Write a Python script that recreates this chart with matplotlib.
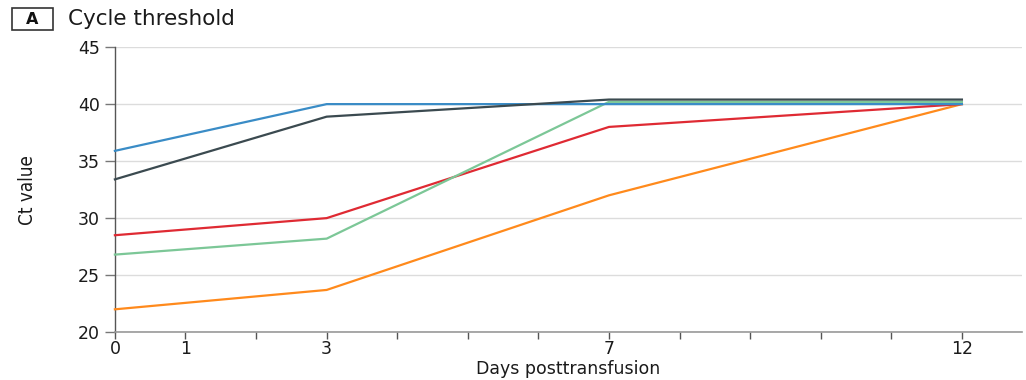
import matplotlib
matplotlib.use('Agg')
from matplotlib import pyplot as plt
from matplotlib.patches import Rectangle
from matplotlib.ticker import FixedLocator

days = [0, 3, 7, 12]
tick_days = list(range(0, 13))
tick_labels = ['0', '1', '', '3', '', '', '', '7', '', '', '', '', '12']
yticks = [20, 25, 30, 35, 40, 45]

# Ct value per participant
ct_blue = [35.9, 40.0, 40.0, 40.0]
ct_slate = [33.4, 38.9, 40.4, 40.4]
ct_green = [26.8, 28.2, 40.2, 40.2]
ct_red = [28.5, 30.0, 38.0, 40.0]
ct_orange = [22.0, 23.7, 32.0, 40.0]

series = [
	(ct_orange, '#ff8a1c'),
	(ct_red, '#df2a33'),
	(ct_green, '#7cc797'),
	(ct_blue, '#3a8cc6'),
	(ct_slate, '#3b4a50'),
]


def plot():
	fig = plt.figure(figsize=(10.26, 3.8), dpi=100)
	ax = fig.add_axes([0.112, 0.126, 0.884, 0.750])

	for y, color in series:
		ax.plot(days, y, color=color, linewidth=1.6, clip_on=False, zorder=3)

	ax.set_xlim(0, 12.85)
	ax.set_ylim(20, 45)
	ax.set_yticks(yticks)
	ax.xaxis.set_major_locator(FixedLocator(tick_days))
	ax.set_xticklabels(tick_labels)

	ax.grid(axis='y', color='#dcdcdc', linewidth=1.0)
	ax.set_axisbelow(True)
	for side in ['top', 'right']:
		ax.spines[side].set_visible(False)
	ax.spines['left'].set_color('#555555')
	ax.spines['bottom'].set_color('#999999')
	ax.spines['left'].set_linewidth(1.0)
	ax.spines['bottom'].set_linewidth(1.2)

	ax.tick_params(axis='y', length=7, width=1, color='#777777', pad=4,
				   labelsize=12.5, labelcolor='#1a1a1a')
	ax.tick_params(axis='x', length=5, width=1, color='#555555', pad=1,
				   labelsize=12.5, labelcolor='#1a1a1a')

	ax.set_xlabel('Days posttransfusion', fontsize=12.5, color='#1a1a1a', labelpad=1)
	ax.set_ylabel('Ct value', fontsize=13.5, color='#1a1a1a', fontstretch='condensed',
				  labelpad=29)

	# panel letter in a box, then the panel title
	fig.patches.append(Rectangle((12 / 1026, 1 - 30 / 380), 41 / 1026, 22 / 380,
								 transform=fig.transFigure, facecolor='white',
								 edgecolor='#333333', linewidth=1.2))
	fig.text(32.5 / 1026, 1 - 19 / 380, 'A', fontsize=11.5, fontweight='bold',
			 ha='center', va='center', color='#111111')
	fig.text(68 / 1026, 1 - 19 / 380, 'Cycle threshold', fontsize=15.5, ha='left',
			 va='center', color='#1a1a1a')

	fig.savefig('out.png', dpi=100)


if __name__ == "__main__":
	plot()
